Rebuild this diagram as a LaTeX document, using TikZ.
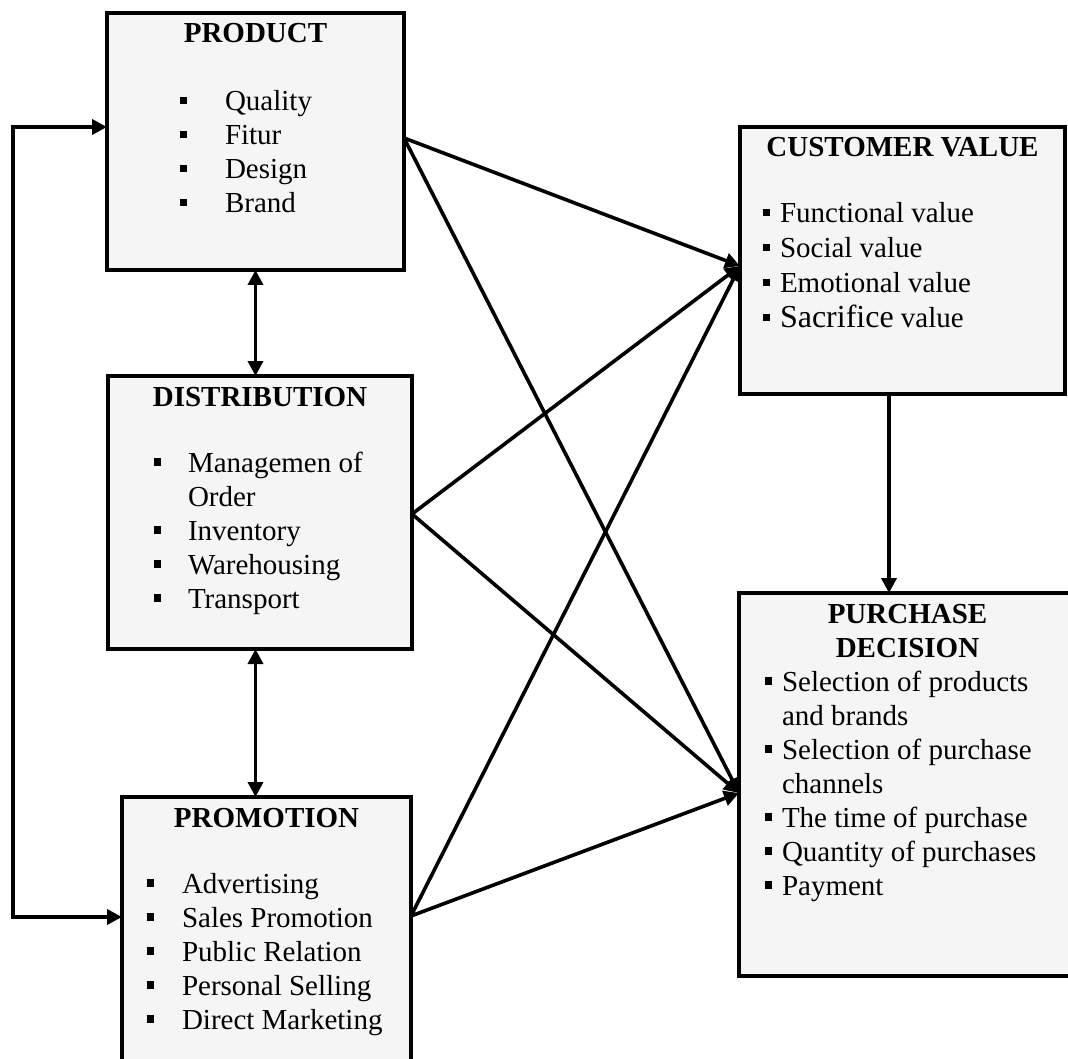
\documentclass[tikz,border=0pt]{standalone}
\usepackage{fontspec}
\setmainfont{Liberation Serif}
\usetikzlibrary{arrows.meta}

\colorlet{box edge}{black}
\colorlet{box fill}{black!4}
\newcommand{\bul}[1]{\par\noindent\llap{\rule[6.5pt]{7.5pt}{7.5pt}\hspace{#1}}}
\newcommand{\head}[1]{\centering\bfseries\rule{0pt}{30pt}#1\par\mdseries}
\newcommand{\items}[1]{\raggedright\leftskip=#1\relax}
\newcommand{\boxbody}[3]{\parbox[c][#2][t]{#1}{\fontsize{29}{34}\selectfont #3}}
\tikzset{
  >={Triangle[length=15pt,width=15pt]},
  box/.style={draw=box edge, line width=3.6pt, fill=box fill, inner sep=0pt, outer sep=0pt, anchor=north west},
  link/.style={draw, line width=3.6pt, ->},
  dlink/.style={draw, line width=3.6pt, <->}
  }

\begin{document}
\begin{tikzpicture}[x=1pt,y=-1pt]
   \useasboundingbox (0,0) rectangle (1068,1059);

   \node[box] (product) at (107,13) {\boxbody{297pt}{257pt}{%
     \head{PRODUCT}\vspace{34pt}\items{118pt}%
     \bul{38pt}Quality\bul{38pt}Fitur\bul{38pt}Design\bul{38pt}Brand\par}};
   \node[box] (distribution) at (108,376) {\boxbody{304pt}{273pt}{%
     \head{DISTRIBUTION}\vspace{32pt}\items{80pt}%
     \bul{27pt}Managemen of\\Order\bul{27pt}Inventory\bul{27pt}Warehousing\bul{27pt}Transport\par}};
   \node[box] (promotion) at (122,797) {\boxbody{289pt}{280pt}{%
     \head{PROMOTION}\vspace{32pt}\items{60pt}%
     \bul{28pt}Advertising\bul{28pt}Sales Promotion\bul{28pt}Public Relation%
     \bul{28pt}Personal Selling\bul{28pt}Direct Marketing\par}};
   \node[box] (cv) at (740,127) {\boxbody{325pt}{267pt}{%
     \head{CUSTOMER VALUE}\vspace{31pt}\items{40pt}\baselineskip=35pt
     \bul{10pt}Functional value\bul{10pt}Social value\bul{10pt}Emotional value%
     \bul{10pt}{\fontsize{32}{35}\selectfont Sacrifice} value\par}};
   \node[box] (pd) at (739,593) {\boxbody{337pt}{383pt}{%
     \head{PURCHASE\\DECISION}\items{43pt}%
     \bul{10pt}Selection of products\\and brands\bul{10pt}Selection of purchase\\channels%
     \bul{10pt}The time of purchase\bul{10pt}Quantity of purchases\bul{10pt}Payment\par}};

   % loop between product and promotion
   \coordinate (loop top) at (13,127);
   \coordinate (loop bottom) at (13,917);
   \path[dlink] (loop top -| product.west) -- (loop top) -- (loop bottom) -- (loop bottom -| promotion.west);

   \path[dlink] (product.south) -- (product.south |- distribution.north);
   \path[dlink] (product.south |- distribution.south) -- (product.south |- promotion.north);

   \path[link] ([yshift=3.5pt]product.east) -- ([yshift=-5.5pt]cv.west);
   \path[link] ([yshift=3.5pt]product.east) -- ([yshift=-8.5pt]pd.west);
   \path[link] ([yshift=-1.5pt]distribution.east) -- ([yshift=-5.5pt]cv.west);
   \path[link] ([yshift=-1.5pt]distribution.east) -- ([yshift=-8.5pt]pd.west);
   \path[link] ([yshift=21pt]promotion.east) -- ([yshift=-5.5pt]cv.west);
   \path[link] ([yshift=21pt]promotion.east) -- ([yshift=-8.5pt]pd.west);

   \path[link] ([xshift=-13.5pt]cv.south) -- ([xshift=-13.5pt]cv.south |- pd.north);
\end{tikzpicture}
\end{document}
